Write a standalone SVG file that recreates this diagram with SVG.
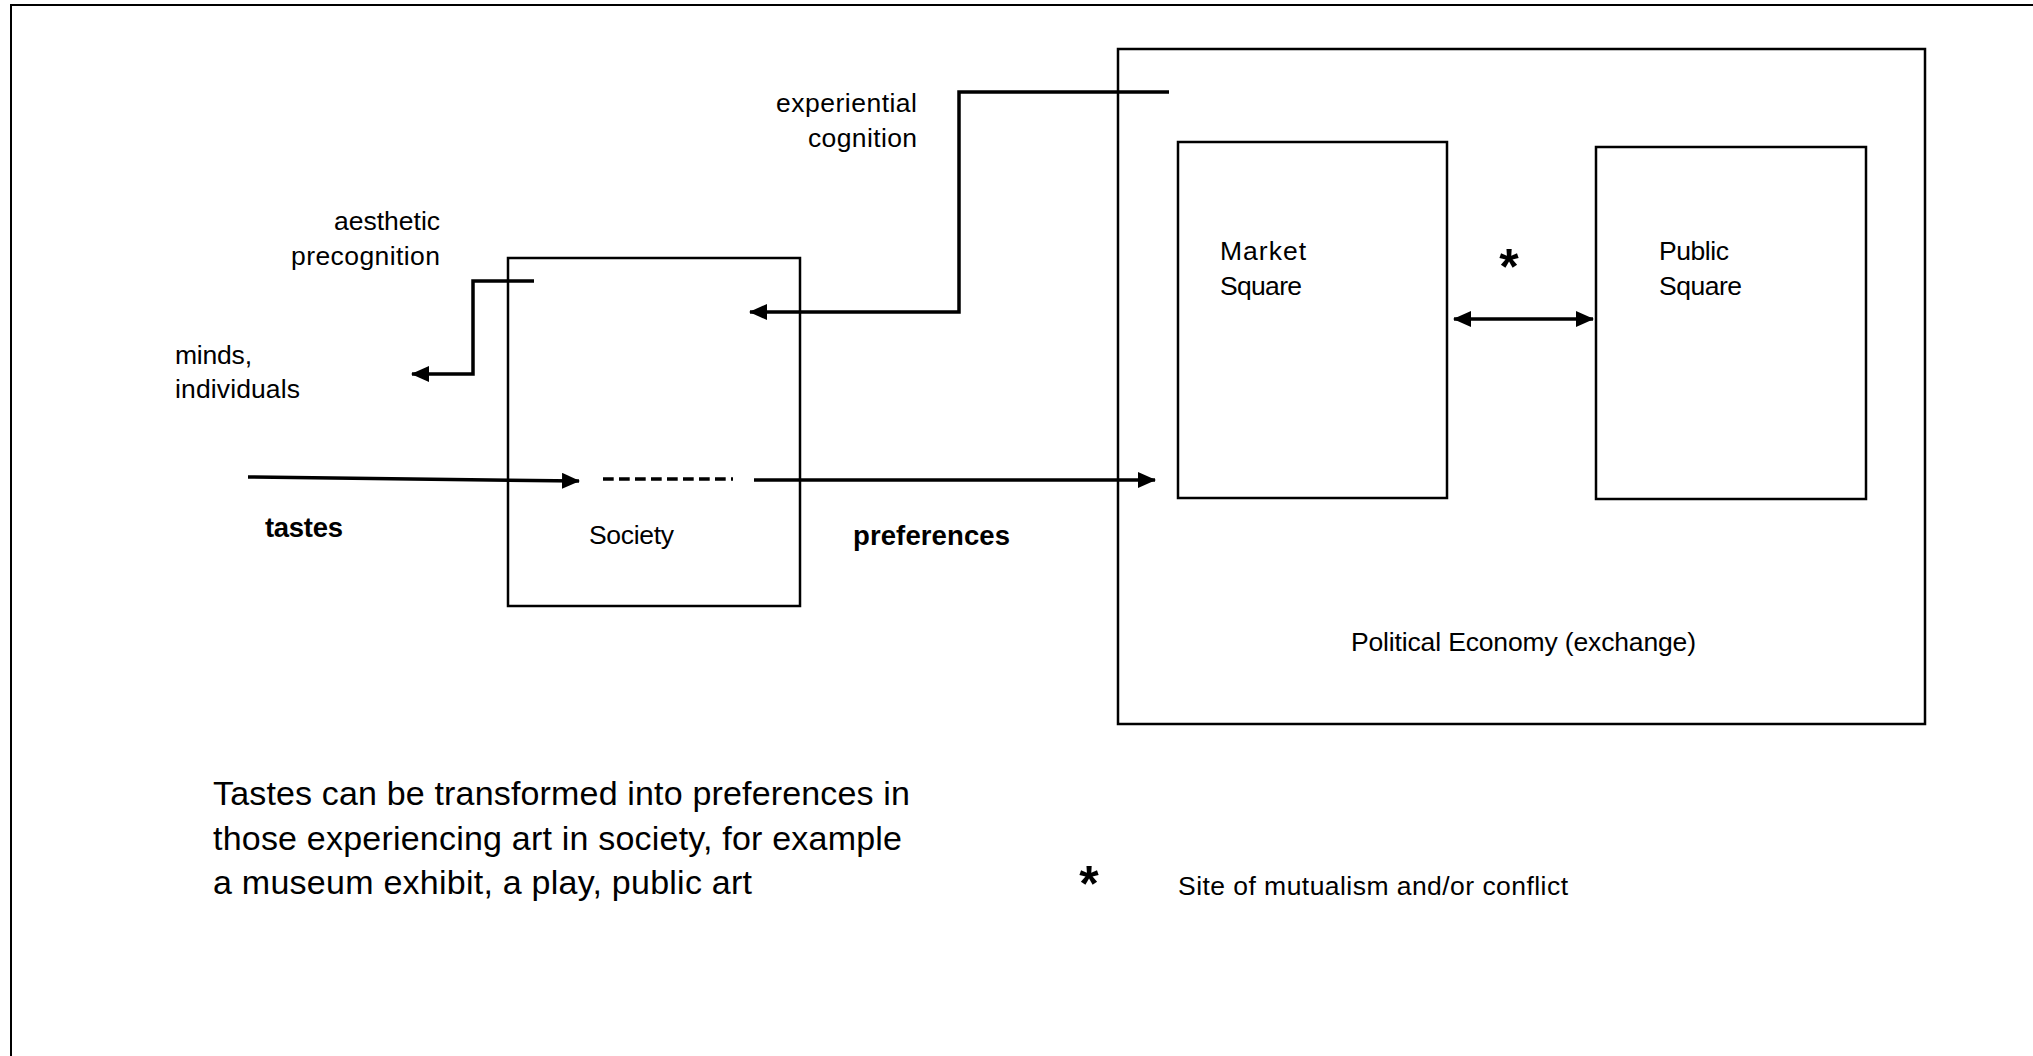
<svg xmlns="http://www.w3.org/2000/svg" width="2033" height="1056" viewBox="0 0 2033 1056">
  <style>
    .box { fill: none; stroke: #000; stroke-width: 2.5; }
    .conn { fill: none; stroke: #000; stroke-width: 3.5; }
    .lbl { font-family: "Liberation Sans", Arial, sans-serif; font-size: 26.5px; fill: #000; }
    .bold { font-family: "Liberation Sans", Arial, sans-serif; font-size: 27.5px; font-weight: bold; fill: #000; }
    .note { font-family: "Liberation Sans", Arial, sans-serif; font-size: 34px; fill: #000; }
    .star { font-family: "Liberation Sans", Arial, sans-serif; font-size: 50px; font-weight: bold; fill: #000; }
  </style>
  <defs>
    <marker id="arrow" viewBox="0 0 18 16" refX="17" refY="8" markerWidth="18" markerHeight="16" markerUnits="userSpaceOnUse" orient="auto-start-reverse">
      <path d="M0,0 L18,8 L0,16 z" fill="#000"/>
    </marker>
  </defs>
  <rect width="2033" height="1056" fill="#fff"/>

  <g id="frame">
    <polyline points="11,1056 11,5 2033,5" fill="none" stroke="#000" stroke-width="2"/>
  </g>

  <g id="node-society">
    <rect class="box" x="508" y="258" width="292" height="348"/>
    <text class="lbl" x="589" y="544" textLength="85">Society</text>
  </g>

  <g id="node-political-economy">
    <rect class="box" x="1118" y="49" width="807" height="675" stroke-width="2"/>
    <text class="lbl" x="1351" y="651" textLength="345">Political Economy (exchange)</text>
  </g>

  <g id="node-market-square">
    <rect class="box" x="1178" y="142" width="269" height="356"/>
    <text class="lbl" x="1220" y="260" textLength="86">Market</text>
    <text class="lbl" x="1220" y="295" textLength="82">Square</text>
  </g>

  <g id="node-public-square">
    <rect class="box" x="1596" y="147" width="270" height="352"/>
    <text class="lbl" x="1659" y="260" textLength="70">Public</text>
    <text class="lbl" x="1659" y="295" textLength="83">Square</text>
  </g>

  <g id="labels">
    <text class="lbl" x="917" y="112" text-anchor="end" textLength="141">experiential</text>
    <text class="lbl" x="917" y="147" text-anchor="end" textLength="109">cognition</text>
    <text class="lbl" x="440" y="230" text-anchor="end" textLength="106">aesthetic</text>
    <text class="lbl" x="440" y="265" text-anchor="end" textLength="149">precognition</text>
    <text class="lbl" x="175" y="364" textLength="77">minds,</text>
    <text class="lbl" x="175" y="398" textLength="125">individuals</text>
    <text class="bold" x="265" y="537" textLength="78">tastes</text>
    <text class="bold" x="853" y="545" textLength="157">preferences</text>
    <text class="star" x="1509" y="284" text-anchor="middle">*</text>
  </g>

  <g id="legend">
    <text class="note" x="213" y="805" textLength="697">Tastes can be transformed into preferences in</text>
    <text class="note" x="213" y="850" textLength="689">those experiencing art in society, for example</text>
    <text class="note" x="213" y="894" textLength="539">a museum exhibit, a play, public art</text>
    <text class="star" x="1089" y="901" text-anchor="middle">*</text>
    <text class="lbl" x="1178" y="895" textLength="390">Site of mutualism and/or conflict</text>
  </g>

  <g id="connectors">
    <polyline class="conn" points="1169,92 959,92 959,312 750,312" marker-end="url(#arrow)"/>
    <polyline class="conn" points="534,281 473,281 473,374 412,374" marker-end="url(#arrow)"/>
    <line class="conn" x1="248" y1="477" x2="579" y2="481" marker-end="url(#arrow)"/>
    <line x1="603" y1="479" x2="733" y2="479" stroke="#000" stroke-width="3.5" stroke-dasharray="10.7,5.3"/>
    <line class="conn" x1="754" y1="480" x2="1155" y2="480" marker-end="url(#arrow)"/>
    <line class="conn" x1="1454" y1="319" x2="1593" y2="319" marker-start="url(#arrow)" marker-end="url(#arrow)"/>
  </g>
</svg>
